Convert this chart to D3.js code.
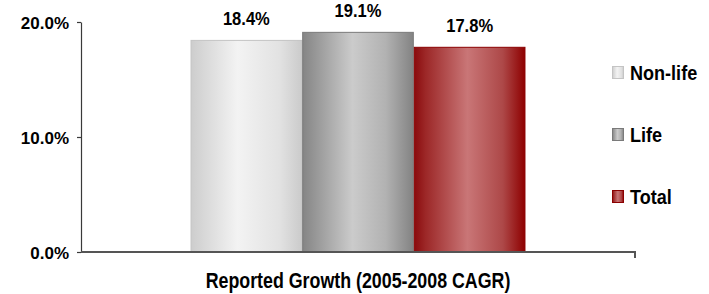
<!DOCTYPE html>
<html>
<head>
<meta charset="utf-8">
<script src="https://cdn.jsdelivr.net/npm/d3@7"></script>
<style>
  html, body { margin: 0; padding: 0; background: #fff; }
  svg { display: block; }
  text { font-family: "Liberation Sans", Arial, sans-serif; font-weight: bold; fill: #000; }
</style>
</head>
<body>
<svg id="chart" width="709" height="294"></svg>
<script>
const categories = ["Reported Growth (2005-2008 CAGR)"];
const seriesNames = ["Non-life", "Life", "Total"];
const seriesValues = [18.4, 19.1, 17.8];
const yTickValues = [0, 10, 20];
const valueLabels = ["18.4%", "19.1%", "17.8%"];

const svg = d3.select("#chart");
const margin = { left: 81, right: 74, top: 22, bottom: 42 };
const W = 709, H = 294;

const y = d3.scaleLinear().domain([0, 20]).range([H - margin.bottom, margin.top]);
const x0 = d3.scaleBand().domain(categories).range([margin.left, W - margin.right])
  .paddingInner(0).paddingOuter(0.327);
const x1 = d3.scaleBand().domain(seriesNames).range([0, x0.bandwidth()]).padding(0);

const defs = svg.append("defs");
const grads = {
  "Non-life": [["0%", "#cdcdcd"], ["42%", "#f3f3f3"], ["80%", "#e2e2e2"], ["100%", "#cbcbcb"]],
  "Life": [["0%", "#858585"], ["45%", "#cbcbcb"], ["75%", "#b2b2b2"], ["100%", "#838383"]],
  "Total": [["0%", "#8a0b0d"], ["10%", "#9c2727"], ["48%", "#c97677"], ["80%", "#ad4848"], ["100%", "#8e0000"]]
};
const strokes = { "Non-life": "#c4c4c4", "Life": "#7a7a7a", "Total": "#8b0000" };
seriesNames.forEach((s, i) => {
  const g = defs.append("linearGradient").attr("id", "g" + i)
    .attr("x1", "0%").attr("x2", "100%").attr("y1", "0%").attr("y2", "0%");
  grads[s].forEach(([o, c]) => g.append("stop").attr("offset", o).attr("stop-color", c));
});

// Bars
const gBars = svg.append("g").attr("transform", `translate(${x0(categories[0])},0)`);
gBars.selectAll("rect").data(seriesValues).join("rect")
  .attr("x", (d, i) => x1(seriesNames[i]) + 0.5)
  .attr("y", d => y(d))
  .attr("width", x1.bandwidth() - 1)
  .attr("height", d => y(0) - y(d))
  .attr("fill", (d, i) => `url(#g${i})`)
  .attr("stroke", (d, i) => strokes[seriesNames[i]])
  .attr("stroke-width", 1);

// Value labels (slightly condensed)
gBars.selectAll("g.val").data(seriesValues).join("g")
  .attr("class", "val")
  .attr("transform", (d, i) => `translate(${x1(seriesNames[i]) + x1.bandwidth() / 2},${y(d) - 15}) scale(0.92,1)`)
  .append("text")
  .attr("text-anchor", "middle")
  .style("font-size", "18px")
  .text((d, i) => valueLabels[i]);

// Y axis
const yAxis = d3.axisLeft(y).tickValues(yTickValues).tickFormat(d => d.toFixed(1) + "%")
  .tickSize(4).tickSizeOuter(0).tickPadding(8);
const gy = svg.append("g").attr("transform", `translate(${margin.left},0)`).call(yAxis);
gy.select(".domain").attr("stroke", "#3a3a3a").attr("stroke-width", 1.2);
gy.selectAll(".tick line").attr("stroke", "#3a3a3a").attr("stroke-width", 1.2);
gy.selectAll(".tick text").style("font-size", "17px")
  .style("font-family", "'Liberation Sans', Arial, sans-serif").style("font-weight", "bold")
  .attr("fill", "#000").attr("dy", "0.36em");

// X axis
const xAxis = d3.axisBottom(x0).tickSize(0).tickSizeOuter(6).tickFormat("");
const gx = svg.append("g").attr("transform", `translate(0,${y(0)})`).call(xAxis);
gx.select(".domain").attr("stroke", "#555").attr("stroke-width", 2)
  .attr("d", `M${margin.left},0H${W - margin.right}V6`);

// X category label (condensed)
svg.selectAll("g.cat").data(categories).join("g")
  .attr("class", "cat")
  .attr("transform", d => `translate(${x0(d) + x0.bandwidth() / 2},288) scale(0.81,1)`)
  .append("text")
  .attr("text-anchor", "middle")
  .style("font-size", "22px")
  .text(d => d);

// Legend
const legend = svg.append("g").attr("transform", "translate(612,66)");
const li = legend.selectAll("g").data(seriesNames).join("g")
  .attr("transform", (d, i) => `translate(0,${i * 62})`);
li.append("rect").attr("x", 0.5).attr("y", 0.5).attr("width", 11).attr("height", 12)
  .attr("fill", (d, i) => `url(#g${i})`)
  .attr("stroke", d => strokes[d]).attr("stroke-width", 1);
li.append("g").attr("transform", "translate(18,13.5) scale(0.86,1)")
  .append("text").style("font-size", "21px").text(d => d);
</script>
</body>
</html>
